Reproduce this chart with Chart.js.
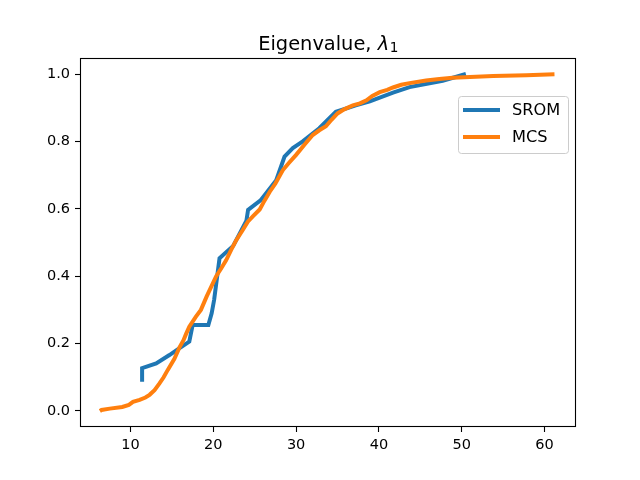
<!DOCTYPE html>
<html>
<head>
<meta charset="utf-8">
<script src="https://cdn.jsdelivr.net/npm/chart.js@4"></script>
<style>
  html, body { margin: 0; padding: 0; background: #fff; }
  #wrap { width: 640px; height: 480px; }
</style>
</head>
<body>
<div id="wrap"><canvas id="eigChart" width="640" height="480"></canvas></div>
<script>
const sromX = [11.4, 11.4, 13.1, 14.7, 15.7, 17.1, 17.5, 19.4, 19.8, 20.1, 20.75, 22.4, 24.0, 24.2, 25.7, 27.6, 28.6, 29.6, 30.8, 32.8, 34.8, 37.2, 38.9, 41.7, 43.7, 47.7, 50.5];
const sromY = [0.087, 0.127, 0.141, 0.166, 0.183, 0.206, 0.255, 0.255, 0.29, 0.33, 0.453, 0.49, 0.565, 0.597, 0.625, 0.685, 0.755, 0.78, 0.80, 0.839, 0.888, 0.907, 0.919, 0.945, 0.961, 0.98, 1.0];

const mcsX = [6.3, 6.5, 7.5, 9.0, 9.8, 10.3, 11.1, 11.8, 12.3, 12.9, 13.5, 14.0, 14.5, 15.3, 15.9, 16.4, 16.7, 17.1, 17.9, 18.5, 19.2, 20.35, 21.0, 21.56, 22.2, 22.77, 23.5, 24.17, 24.8, 25.6, 26.2, 26.8, 27.5, 28.4, 29.2, 30.0, 31.0, 32.0, 32.8, 33.6, 34.3, 35.0, 35.8, 36.85, 37.7, 38.5, 39.2, 40.1, 41.0, 41.7, 42.7, 43.7, 45.7, 47.3, 48.9, 51.0, 53.8, 57.8, 61.2];
const mcsY = [0.0, 0.003, 0.007, 0.012, 0.018, 0.027, 0.033, 0.040, 0.048, 0.062, 0.082, 0.10, 0.122, 0.155, 0.188, 0.21, 0.228, 0.25, 0.28, 0.30, 0.34, 0.40, 0.425, 0.448, 0.48, 0.507, 0.535, 0.562, 0.578, 0.598, 0.625, 0.65, 0.675, 0.715, 0.738, 0.76, 0.79, 0.819, 0.833, 0.845, 0.865, 0.883, 0.895, 0.907, 0.913, 0.922, 0.935, 0.946, 0.953, 0.96, 0.968, 0.973, 0.981, 0.985, 0.989, 0.991, 0.994, 0.996, 0.999];

const xTicks = [10, 20, 30, 40, 50, 60];
const yTicks = [0.0, 0.2, 0.4, 0.6, 0.8, 1.0];

const FONT = 'DejaVu Sans';

function toPoints(xs, ys) {
  return xs.map((x, i) => ({ x, y: ys[i] }));
}

// axes frame, title with italic lambda and subscript, legend inside the plot
const decorPlugin = {
  id: 'decor',
  afterDraw(chart) {
    const ctx = chart.ctx;
    const a = chart.chartArea;
    ctx.save();
    ctx.strokeStyle = '#000';
    ctx.lineWidth = 1.1;
    ctx.strokeRect(Math.round(a.left) + 0.5, Math.round(a.top) + 0.5, Math.round(a.right - a.left) - 1, Math.round(a.bottom - a.top) - 1);

    // title
    const big = '19.4px "' + FONT + '"';
    const ital = 'italic 19.4px "' + FONT + '"';
    const small = '13.6px "' + FONT + '"';
    const p1 = 'Eigenvalue, ', p2 = 'λ', p3 = '1';
    ctx.font = big; const w1 = ctx.measureText(p1).width;
    ctx.font = ital; const w2 = ctx.measureText(p2).width;
    ctx.font = small; const w3 = ctx.measureText(p3).width;
    let tx = (a.left + a.right) / 2 - (w1 + w2 + w3) / 2;
    const base = 49.5;
    ctx.fillStyle = '#000';
    ctx.textBaseline = 'alphabetic';
    ctx.textAlign = 'left';
    ctx.font = big; ctx.fillText(p1, tx, base); tx += w1;
    ctx.font = ital; ctx.fillText(p2, tx, base); tx += w2 + 0.5;
    ctx.font = small; ctx.fillText(p3, tx, base + 2.5);

    // legend
    const bx = 458.5, by = 96.5, bw = 110, bh = 57, r = 3;
    ctx.beginPath();
    ctx.moveTo(bx + r, by);
    ctx.lineTo(bx + bw - r, by);
    ctx.quadraticCurveTo(bx + bw, by, bx + bw, by + r);
    ctx.lineTo(bx + bw, by + bh - r);
    ctx.quadraticCurveTo(bx + bw, by + bh, bx + bw - r, by + bh);
    ctx.lineTo(bx + r, by + bh);
    ctx.quadraticCurveTo(bx, by + bh, bx, by + bh - r);
    ctx.lineTo(bx, by + r);
    ctx.quadraticCurveTo(bx, by, bx + r, by);
    ctx.closePath();
    ctx.fillStyle = 'rgba(255,255,255,0.8)';
    ctx.fill();
    ctx.strokeStyle = '#cccccc';
    ctx.lineWidth = 1;
    ctx.stroke();

    const rows = [110, 137];
    chart.data.datasets.forEach((ds, i) => {
      const y = rows[i];
      ctx.strokeStyle = ds.borderColor;
      ctx.lineWidth = 4;
      ctx.lineCap = 'butt';
      ctx.beginPath();
      ctx.moveTo(463, y);
      ctx.lineTo(500, y);
      ctx.stroke();
      ctx.fillStyle = '#000';
      ctx.font = '16.2px "' + FONT + '"';
      ctx.textBaseline = 'middle';
      ctx.fillText(ds.label, 512, y + 0.5);
    });
    ctx.restore();
  }
};

const chartCanvas = document.getElementById('eigChart');

new Chart(chartCanvas, {
  type: 'scatter',
  data: {
    datasets: [
      {
        label: 'SROM',
        data: toPoints(sromX, sromY),
        showLine: true,
        borderColor: '#1f77b4',
        borderWidth: 4,
        pointRadius: 0,
        tension: 0,
        fill: false,
        order: 2
      },
      {
        label: 'MCS',
        data: toPoints(mcsX, mcsY),
        showLine: true,
        borderColor: '#ff7f0e',
        borderWidth: 4,
        pointRadius: 0,
        tension: 0,
        fill: false,
        order: 1
      }
    ]
  },
  options: {
    responsive: false,
    animation: false,
    layout: { padding: { top: 58, right: 64, left: 0, bottom: 0 } },
    plugins: {
      legend: { display: false },
      title: { display: false },
      tooltip: { enabled: false }
    },
    scales: {
      x: {
        type: 'linear',
        min: 3.9,
        max: 63.8,
        afterBuildTicks: (s) => { s.ticks = xTicks.map(v => ({ value: v })); },
        afterFit: (s) => { s.height = 53; },
        grid: { drawOnChartArea: false, tickLength: 5, color: '#000', tickWidth: 1.1 },
        border: { display: false },
        ticks: {
          color: '#000',
          padding: 5,
          maxRotation: 0,
          font: { family: FONT, size: 14.5 },
          callback: (v) => String(v)
        }
      },
      y: {
        type: 'linear',
        min: -0.0475,
        max: 1.0475,
        afterBuildTicks: (s) => { s.ticks = yTicks.map(v => ({ value: v })); },
        afterFit: (s) => { s.width = 80; },
        grid: { drawOnChartArea: false, tickLength: 5, color: '#000', tickWidth: 1.1 },
        border: { display: false },
        ticks: {
          color: '#000',
          padding: 5,
          font: { family: FONT, size: 14.5 },
          callback: (v) => v.toFixed(1)
        }
      }
    }
  },
  plugins: [decorPlugin]
});
</script>
</body>
</html>
